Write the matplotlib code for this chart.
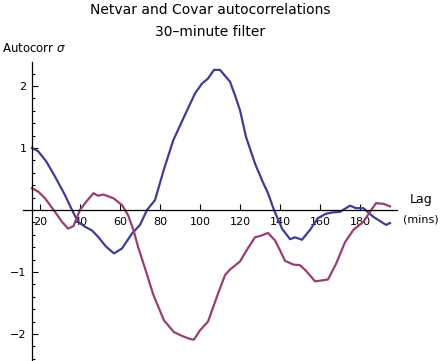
import matplotlib
matplotlib.use('Agg')
import matplotlib.pyplot as plt
from matplotlib.ticker import MultipleLocator, FixedLocator

# lag (mins) and autocorrelation (sigma)
netvar_lag = [16, 19, 23, 27.5, 32.5, 36, 39, 42.5, 46, 49, 53, 57, 61, 66, 70,
              73.5, 77.5, 82, 86.7, 91.7, 97.5, 101, 104, 107, 110, 115, 117.5,
              120, 123, 127.5, 131, 134, 137, 141, 145, 147.5, 151, 155, 159,
              163, 166, 170, 175, 178, 181.7, 186.7, 193, 195]
netvar_val = [1.00, 0.95, 0.79, 0.54, 0.24, 0.0, -0.19, -0.27, -0.33, -0.43,
              -0.59, -0.70, -0.62, -0.38, -0.24, 0.0, 0.16, 0.66, 1.13, 1.48,
              1.88, 2.04, 2.12, 2.26, 2.26, 2.07, 1.85, 1.61, 1.18, 0.75, 0.48,
              0.27, 0.0, -0.30, -0.47, -0.44, -0.48, -0.32, -0.13, -0.06, -0.04,
              -0.03, 0.07, 0.03, 0.03, -0.11, -0.24, -0.21]

covar_lag = [16, 19, 22.5, 27.5, 31, 34, 36.7, 40, 43, 46.7, 49, 51.7, 56.7, 61,
             64, 66.7, 69, 72.5, 76.7, 82, 87, 91, 95, 97, 100, 104, 109, 112.5,
             115, 120, 123.3, 127.5, 130, 134, 137.5, 140, 142.5, 146.7, 150,
             153, 157.5, 160, 164, 168, 172.5, 176.7, 181.7, 185, 188, 191.7, 195]
covar_val = [0.35, 0.30, 0.19, -0.03, -0.19, -0.30, -0.26, 0.0, 0.13, 0.27,
             0.23, 0.25, 0.19, 0.08, -0.08, -0.32, -0.59, -0.94, -1.37, -1.78,
             -1.97, -2.03, -2.08, -2.09, -1.94, -1.80, -1.35, -1.05, -0.96,
             -0.83, -0.65, -0.44, -0.42, -0.37, -0.49, -0.65, -0.82, -0.88,
             -0.89, -0.98, -1.15, -1.14, -1.12, -0.87, -0.52, -0.32, -0.19,
             -0.03, 0.11, 0.10, 0.06]

x_ticks = [20, 40, 60, 80, 100, 120, 140, 160, 180]
y_ticks = [-2, -1, 1, 2]

blue = '#3d3d99'
purple = '#993d74'

fig = plt.figure(figsize=(4.4, 3.61), dpi=100)
ax = fig.add_axes([23 / 440, 0.0, 374 / 440, 299 / 361])

ax.plot(netvar_lag, netvar_val, color=blue, lw=1.6)
ax.plot(covar_lag, covar_val, color=purple, lw=1.6)

ax.set_xlim(11.5, 198.5)
ax.set_ylim(-2.435, 2.387)

ax.spines['left'].set_position(('data', 16))
ax.spines['bottom'].set_position(('data', 0))
ax.spines['top'].set_visible(False)
ax.spines['right'].set_visible(False)
for s in ['left', 'bottom']:
    ax.spines[s].set_linewidth(0.9)

ax.xaxis.set_major_locator(FixedLocator(x_ticks))
ax.yaxis.set_major_locator(FixedLocator(y_ticks))
ax.yaxis.set_minor_locator(MultipleLocator(0.2))
ax.tick_params(axis='x', direction='in', length=4, width=0.8, pad=5, labelsize=8)
ax.tick_params(axis='y', which='major', direction='in', length=4, width=0.8, pad=4, labelsize=8)
ax.tick_params(axis='y', which='minor', direction='in', length=2.5, width=0.8)
ax.set_facecolor('none')

fig.text(210 / 440, 1 - 10 / 361, 'Netvar and Covar autocorrelations',
         ha='center', va='center', fontsize=10)
fig.text(210 / 440, 1 - 32 / 361, '30\u2013minute filter',
         ha='center', va='center', fontsize=10)
fig.text(2 / 440, 1 - 48 / 361, r'Autocorr $\sigma$', ha='left', va='center', fontsize=8.5)
fig.text(421 / 440, 1 - 200 / 361, 'Lag', ha='center', va='center', fontsize=9)
fig.text(421 / 440, 1 - 220 / 361, '(mins)', ha='center', va='center', fontsize=8)

plt.savefig('out.png', dpi=100)
